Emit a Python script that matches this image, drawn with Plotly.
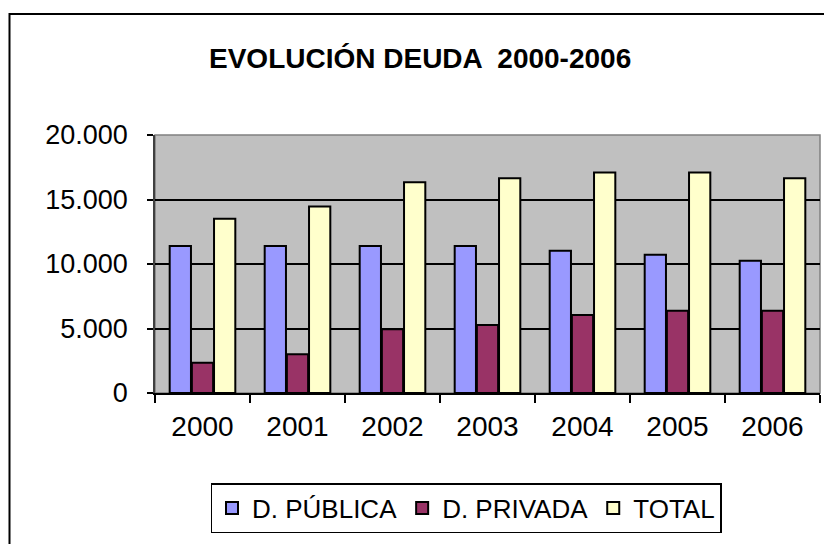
import plotly.graph_objects as go

years = ["2000", "2001", "2002", "2003", "2004", "2005", "2006"]
publica = [11400, 11400, 11400, 11400, 11030, 10720, 10250]
privada = [2350, 3000, 4950, 5270, 6050, 6380, 6380]
total = [13500, 14450, 16330, 16650, 17100, 17100, 16650]
ytick_vals = [0, 5000, 10000, 15000, 20000]
ytick_text = ["0", "5.000", "10.000", "15.000", "20.000"]
title_text = "EVOLUCIÓN DEUDA  2000-2006"

FONT = "Liberation Sans, Arial, sans-serif"
line = dict(color="black", width=2)

fig = go.Figure()
fig.add_bar(x=years, y=publica, name="D. PÚBLICA", marker=dict(color="#9999FF", line=line))
fig.add_bar(x=years, y=privada, name="D. PRIVADA", marker=dict(color="#993366", line=line))
fig.add_bar(x=years, y=total, name="TOTAL", marker=dict(color="#FFFFCC", line=line))

OFF = 8  # page body margin offset
L, R, T, B = 155 - OFF, 820 - OFF, 135 - OFF, 393 - OFF
W, H = R - L, B - T

def px(xp):
    return (xp - OFF - L) / W

def py(yp):
    return (B - (yp - OFF)) / H

fig.update_layout(
    width=832, height=544,
    margin=dict(l=L, r=832 - R, t=T, b=544 - B, pad=0),
    paper_bgcolor="white",
    plot_bgcolor="#C0C0C0",
    barmode="group",
    bargap=0.3,
    bargroupgap=0.04,
    font=dict(family=FONT, color="black"),
    showlegend=True,
    legend=dict(
        orientation="h",
        x=px(466), y=py(483), xanchor="center", yanchor="top",
        bordercolor="black", borderwidth=1.5, bgcolor="white",
        font=dict(size=26, family=FONT),
        itemwidth=30, tracegroupgap=0,
    ),
    xaxis=dict(
        showgrid=False, showline=True, linecolor="black", linewidth=1.5,
        ticks="outside", ticklen=8, tickcolor="black", tickwidth=1.5,
        tickson="boundaries",
        tickfont=dict(size=28, family=FONT),
        ticklabelstandoff=8,
        fixedrange=True,
    ),
    yaxis=dict(
        range=[0, 20000],
        tickvals=ytick_vals, ticktext=ytick_text,
        showgrid=True, gridcolor="black", gridwidth=1.5,
        showline=True, linecolor="#404040", linewidth=1.5,
        ticks="outside", ticklen=6, tickcolor="black", tickwidth=1.5,
        tickfont=dict(size=27, family=FONT),
        ticklabelstandoff=14,
        zeroline=False,
        fixedrange=True,
    ),
    annotations=[dict(
        text="<b>" + title_text + "</b>",
        xref="paper", yref="paper", x=px(420), y=py(59),
        xanchor="center", yanchor="middle", showarrow=False,
        font=dict(size=28, family=FONT, color="black"),
    )],
    shapes=[
        dict(type="rect", xref="paper", yref="paper",
             x0=0, x1=1, y0=0, y1=1,
             line=dict(color="#808080", width=1.5), layer="below"),
        dict(type="rect", xref="paper", yref="paper",
             x0=px(9.5), x1=px(845), y0=py(560), y1=py(14),
             line=dict(color="black", width=2), layer="above"),
    ],
)

fig.write_html("out.html")
